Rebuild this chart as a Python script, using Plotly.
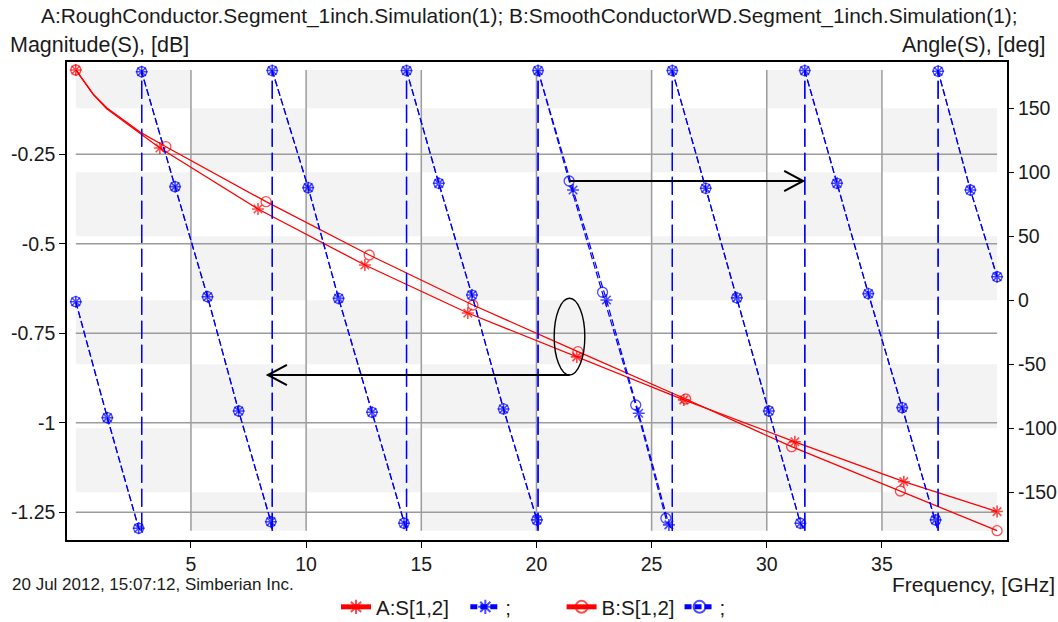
import plotly.graph_objects as go

# ---------------- data ----------------
# Magnitude of S[1,2], dB (left axis) - marker readings
mag_freq_A = [0.0, 3.65, 7.91, 12.55, 17.02, 21.75, 26.4, 31.22, 35.95, 40.0]
mag_A = [-0.0145, -0.2324, -0.4028, -0.5592, -0.6933, -0.816, -0.936, -1.053, -1.1645, -1.248]
mag_freq_B = [0.0, 3.91, 8.26, 12.74, 17.24, 21.8, 26.48, 31.08, 35.8, 40.0]
mag_B = [-0.0145, -0.2288, -0.3824, -0.5313, -0.671, -0.8014, -0.9335, -1.0668, -1.1905, -1.3014]
# extra curve readings near DC (no markers there)
start_freq = [0.4, 0.76, 1.34, 1.92, 2.79]
start_mag_A = [-0.052, -0.083, -0.123, -0.151, -0.193]
start_mag_B = [-0.051, -0.082, -0.120, -0.147, -0.188]

# Angle of S[1,2], deg (right axis) - marker readings
phase_freq_A = [0.0, 1.37, 2.73, 2.86, 4.31, 5.72, 7.07, 8.47, 8.53, 10.09, 11.41, 12.86, 14.25,
                14.36, 15.76, 17.2, 18.57, 20.02, 20.07, 21.59, 23.04, 24.44, 25.75, 25.9, 27.35,
                28.7, 30.09, 31.46, 31.65, 33.05, 34.41, 35.88, 37.33, 37.44, 38.84, 40.0]
phase_A = [-1.1, -91.7, -178.1, 178.6, 88.8, 2.8, -86.5, -173.0, 179.5, 88.0, 1.5, -87.5, -174.2,
           179.5, 91.4, 4.1, -84.9, -171.6, 179.5, 86.2, 0.2, -88.3, -175.5, 179.5, 87.5,
           1.9, -86.5, -174.2, 179.5, 91.4, 5.2, -83.9, -171.6, 179.0, 86.2, 18.4]
phase_freq_B = [0.0, 1.37, 2.73, 2.86, 4.31, 5.72, 7.07, 8.47, 8.53, 10.09, 11.41, 12.86, 14.25,
                14.36, 15.76, 17.2, 18.57, 20.02, 20.07, 21.42, 22.87, 24.31, 25.62, 25.9, 27.35,
                28.7, 30.09, 31.46, 31.65, 33.05, 34.41, 35.88, 37.33, 37.44, 38.84, 40.0]
phase_B = [-1.1, -91.7, -178.1, 178.6, 88.8, 2.8, -86.5, -173.0, 179.5, 88.0, 1.5, -87.5, -174.2,
           179.5, 91.4, 4.1, -84.9, -171.6, 179.5, 93.2, 6.3, -81.8, -170.3, 179.5, 87.5,
           1.9, -86.5, -174.2, 179.5, 91.4, 5.2, -83.9, -171.6, 179.0, 86.2, 18.4]
# frequencies where the angle wraps from -180 to +180
wrap_freq = [2.86, 8.53, 14.36, 20.07, 25.9, 31.65, 37.44]

x_ticks = [5, 10, 15, 20, 25, 30, 35]
y_ticks = [-0.25, -0.5, -0.75, -1.0, -1.25]
y_ticktext = ["-0.25", "-0.5", "-0.75", "-1", "-1.25"]
y2_ticks = [-150, -100, -50, 0, 50, 100, 150]
y2_ticktext = ["-150", "-100", "-50", "0", "50", "100", "150"]

title_text = "A:RoughConductor.Segment_1inch.Simulation(1); B:SmoothConductorWD.Segment_1inch.Simulation(1);"
left_title = "Magnitude(S), [dB]"
right_title = "Angle(S), [deg]"
x_title = "Frequency, [GHz]"
footer = "20 Jul 2012, 15:07:12, Simberian Inc."
legend_names = ["A:S[1,2]", ";", "B:S[1,2]", ";"]

# ---------------- helpers ----------------
RED = "#ff0000"
BLUE = "#0000ff"
FONT = "Liberation Sans, Arial, sans-serif"
TXT = "#1a1a1a"
MS = 10
NB = "\u00a0"


def mag_curve(mfreq, mval, sfreq, sval):
    pts = [(f, v, MS) for f, v in zip(mfreq, mval)] + [(f, v, 0) for f, v in zip(sfreq, sval)]
    pts.sort(key=lambda p: p[0])
    return [p[0] for p in pts], [p[1] for p in pts], [p[2] for p in pts]


def phase_ramps(freq, val):
    xs, ys, ss = [], [], []
    for i in range(len(freq)):
        if i > 0 and val[i] > val[i - 1]:
            fw = [w for w in wrap_freq if freq[i - 1] <= w <= freq[i]][0]
            xs += [fw, None, fw]
            ys += [-180, None, 180]
            ss += [0, 0, 0]
        xs.append(freq[i])
        ys.append(val[i])
        ss.append(MS)
    return xs, ys, ss


def wraps():
    xs, ys = [], []
    for w in wrap_freq:
        xs += [w, w, None]
        ys += [-180, 180, None]
    return xs, ys


fig = go.Figure()

# ---- phase wrap lines ----
wx, wy = wraps()
for _ in range(2):
    fig.add_trace(go.Scatter(x=wx, y=wy, yaxis="y2", mode="lines", showlegend=False,
                             line=dict(color=BLUE, width=1.3, dash="18px,6px"),
                             hoverinfo="skip"))

# ---- phase ramps ----
px, py, ps = phase_ramps(phase_freq_A, phase_A)
fig.add_trace(go.Scatter(x=px, y=py, yaxis="y2", mode="lines+markers",
                         name=legend_names[1] + NB * 8,
                         legendrank=2, connectgaps=False,
                         line=dict(color=BLUE, width=1.2, dash="7px,3px"),
                         marker=dict(symbol="asterisk", size=ps, color=BLUE,
                                     line=dict(color=BLUE, width=1.6))))
px, py, ps = phase_ramps(phase_freq_B, phase_B)
fig.add_trace(go.Scatter(x=px, y=py, yaxis="y2", mode="lines+markers",
                         name=legend_names[3],
                         legendrank=4, connectgaps=False,
                         line=dict(color=BLUE, width=1.2, dash="7px,3px"),
                         marker=dict(symbol="circle-open", size=ps, color=BLUE,
                                     line=dict(color=BLUE, width=1.3))))

# ---- magnitudes ----
mx, my, msz = mag_curve(mag_freq_A, mag_A, start_freq, start_mag_A)
fig.add_trace(go.Scatter(x=mx, y=my, mode="lines+markers", name=legend_names[0] + NB * 2,
                         legendrank=1,
                         line=dict(color=RED, width=1.3),
                         marker=dict(symbol="asterisk", size=msz, color=RED,
                                     line=dict(color=RED, width=1.6))))
mx, my, msz = mag_curve(mag_freq_B, mag_B, start_freq, start_mag_B)
fig.add_trace(go.Scatter(x=mx, y=my, mode="lines+markers", name=legend_names[2],
                         legendrank=3,
                         line=dict(color=RED, width=1.3),
                         marker=dict(symbol="circle-open", size=msz, color=RED,
                                     line=dict(color=RED, width=1.3))))

# ---- background checkerboard and grid ----
shapes = []
row_bounds = [180, 150, 100, 50, 0, -50, -100, -150, -180]
for c in range(8):
    for r in range(8):
        if (c + r) % 2 == 0:
            shapes.append(dict(type="rect", xref="x", yref="y2", x0=5 * c, x1=5 * c + 5,
                               y0=row_bounds[r + 1], y1=row_bounds[r], fillcolor="#f3f3f3",
                               line=dict(width=0), layer="below"))
for xv in x_ticks:
    shapes.append(dict(type="line", xref="x", yref="y2", x0=xv, x1=xv, y0=-180, y1=180,
                       line=dict(color="#9c9c9c", width=1.5), layer="below"))
for yv in y_ticks:
    shapes.append(dict(type="line", xref="x", yref="y", x0=0, x1=40, y0=yv, y1=yv,
                       line=dict(color="#9c9c9c", width=1.5), layer="below"))

# ---- markup: ellipse and arrows ----
shapes.append(dict(type="circle", xref="x", yref="y", x0=20.77, x1=22.10, y0=-0.8665, y1=-0.6522,
                   line=dict(color="black", width=1.4)))
ax, ay = 0.825, 0.028
shapes.append(dict(type="path", xref="x", yref="y",
                   path=f"M 21.44,-0.8665 L 8.34,-0.8665 M {8.34 + ax},{-0.8665 + ay} L 8.34,-0.8665 L {8.34 + ax},{-0.8665 - ay}",
                   line=dict(color="black", width=2)))
shapes.append(dict(type="path", xref="x", yref="y",
                   path=f"M 21.42,-0.3246 L 31.58,-0.3246 M {31.58 - ax},{-0.3246 + ay} L 31.58,-0.3246 L {31.58 - ax},{-0.3246 - ay}",
                   line=dict(color="black", width=2)))

# ---- page geometry ----
W, H = 1058, 622
L, R, T, B = 67, 51, 62, 82
PW, PH = W - L - R, H - T - B


def pxx(p):
    return (p - L) / PW


def pxy(p):
    return (H - B - p) / PH


def ann(text, x, y, xanchor, size):
    return dict(text=text, xref="paper", yref="paper", x=pxx(x), y=pxy(y), xanchor=xanchor,
                yanchor="middle", showarrow=False, font=dict(family=FONT, size=size, color=TXT))


annotations = [
    ann(title_text, 39, 16, "left", 20.9),
    ann(left_title, 8, 45, "left", 21.5),
    ann(right_title, 1047, 45, "right", 21.5),
    ann(footer, 10, 584, "left", 17),
    ann(x_title, 1057, 584, "right", 21),
]

axis_common = dict(showgrid=False, zeroline=False, ticks="outside", ticklen=6, tickwidth=1.3,
                   automargin=False,
                   tickcolor="black", tickfont=dict(family=FONT, size=19.5, color=TXT))

fig.update_layout(
    width=W, height=H,
    margin=dict(l=L, r=R, t=T, b=B, pad=0, autoexpand=False),
    paper_bgcolor="white", plot_bgcolor="white",
    shapes=shapes, annotations=annotations,
    showlegend=True,
    legend=dict(orientation="h", x=pxx(336), xanchor="left", y=pxy(587), yanchor="top",
                font=dict(family=FONT, size=20.5, color=TXT), itemsizing="constant",
                bgcolor="rgba(0,0,0,0)", itemwidth=30, tracegroupgap=0),
    xaxis=dict(range=[-0.382, 40.43], tickvals=x_ticks, ticktext=[str(v) for v in x_ticks],
               showline=True, linecolor="black", linewidth=1.5, mirror=True, **axis_common),
    yaxis=dict(range=[-1.3274, 0.0078], tickvals=y_ticks, ticktext=y_ticktext,
               showline=True, linecolor="black", linewidth=1.5, mirror=True, **axis_common),
    yaxis2=dict(range=[-187.3, 186.2], tickvals=y2_ticks, ticktext=y2_ticktext,
                overlaying="y", side="right", showline=False, **axis_common),
)

fig.write_html("out.html", config={"displayModeBar": False},
               post_script="document.body.style.margin='0px';document.body.style.overflow='hidden';")
